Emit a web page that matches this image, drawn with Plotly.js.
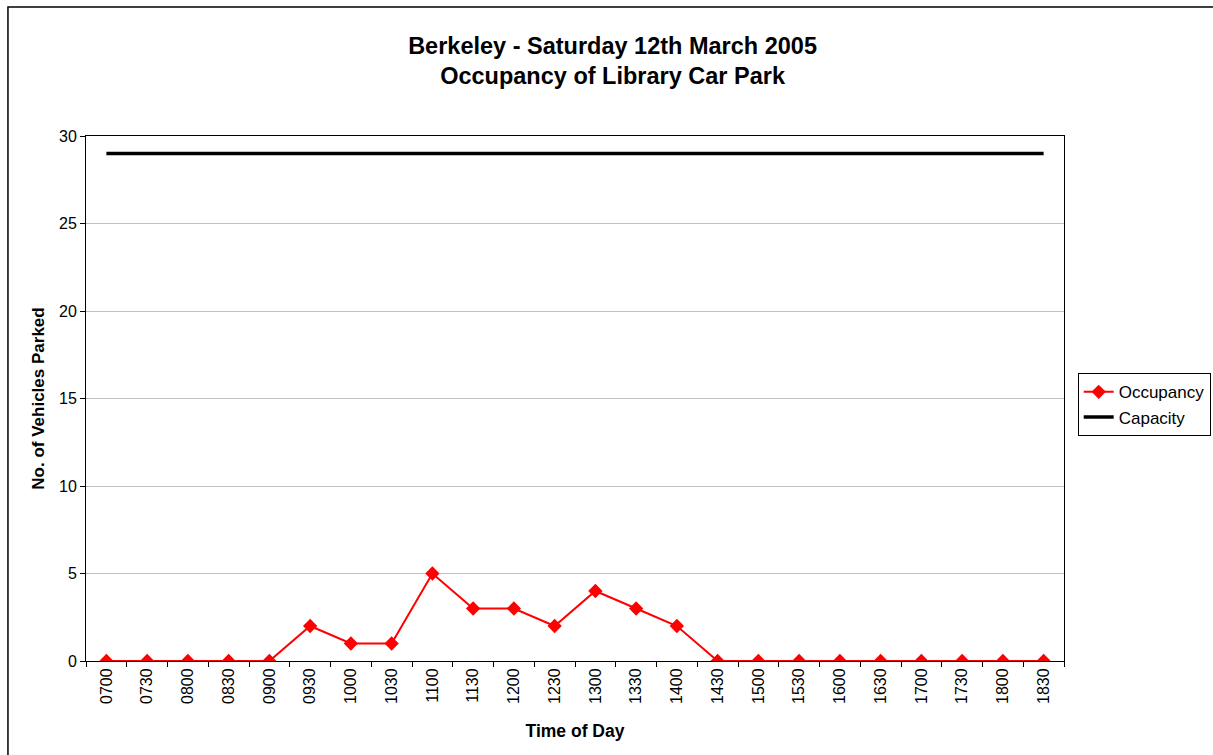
<!DOCTYPE html>
<html><head><meta charset="utf-8">
<script src="https://cdn.plot.ly/plotly-3.0.1.min.js"></script>
<style>html,body{margin:0;padding:0;background:#fff;}#chart{width:1213px;height:755px;}</style>
</head><body><div id="chart"></div>
<script>
const times = ["0700","0730","0800","0830","0900","0930","1000","1030","1100","1130","1200","1230","1300","1330","1400","1430","1500","1530","1600","1630","1700","1730","1800","1830"];
const occupancy = [0,0,0,0,0,2,1,1,5,3,3,2,4,3,2,0,0,0,0,0,0,0,0,0];
const capacity = [29,29,29,29,29,29,29,29,29,29,29,29,29,29,29,29,29,29,29,29,29,29,29,29];
const yTicks = [0,5,10,15,20,25,30];

const traces = [
  {x: times, y: occupancy, name: "Occupancy", type: "scatter", mode: "lines+markers",
   line: {color: "#ff0000", width: 2}, marker: {symbol: "diamond", size: 11, color: "#ff0000"}},
  {x: times, y: capacity, name: "Capacity", type: "scatter", mode: "lines",
   line: {color: "#000000", width: 3.5}}
];
const layout = {
  width: 1213, height: 755,
  margin: {l: 86, r: 149, t: 136, b: 94, autoexpand: false},
  paper_bgcolor: "#ffffff", plot_bgcolor: "#ffffff",
  font: {family: "Liberation Sans, Arial, sans-serif", color: "#000", size: 16},
  title: {text: "<b>Berkeley - Saturday 12th March 2005<br>Occupancy of Library Car Park</b>",
          font: {size: 23.5, color: "#000"}, x: 0.505, xref: "container", xanchor: "center",
          y: 0.929, yref: "container", yanchor: "middle"},
  xaxis: {type: "category", range: [-0.5, times.length - 0.5], tickangle: -90, showgrid: false,
          ticks: "outside", ticklen: 5,
          tickson: "boundaries", tickcolor: "#000", linecolor: "#000", linewidth: 1, mirror: true,
          showline: true, tickfont: {size: 16}, zeroline: false,
          title: {text: "<b>Time of Day</b>", font: {size: 17.5}, standoff: 21}},
  yaxis: {range: [0, 30], tickvals: yTicks, ticks: "outside", ticklen: 5, tickcolor: "#000",
          showgrid: true, gridcolor: "#c0c0c0", gridwidth: 1, linecolor: "#000", linewidth: 1,
          mirror: true, showline: true, zeroline: false, tickfont: {size: 16},
          title: {text: "<b>No. of Vehicles Parked</b>", font: {size: 17}, standoff: 10}},
  legend: {x: 1.014, xanchor: "left", y: 0.548, yanchor: "top", bordercolor: "#000", borderwidth: 1,
           font: {size: 17}, bgcolor: "#fff", tracegroupgap: 0},
  showlegend: true,
  shapes: [{type: "rect", xref: "paper", yref: "paper", x0: -0.0798, x1: 1.3, y0: -0.4, y1: 1.2457,
            line: {color: "#000", width: 1.5}, fillcolor: "rgba(0,0,0,0)", layer: "below"}]
};
Plotly.newPlot("chart", traces, layout, {displayModeBar: false, staticPlot: true});
</script></body></html>
